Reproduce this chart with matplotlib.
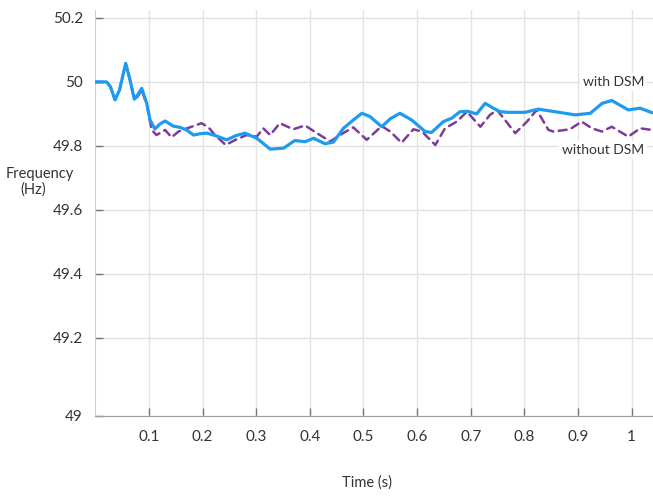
import matplotlib
matplotlib.use("Agg")
import matplotlib.pyplot as plt

plt.rcParams['font.family'] = ['Lato', 'DejaVu Sans']

# Frequency response with demand side management (DSM)
time_with = [0.000, 0.021, 0.028, 0.0366, 0.045, 0.0565, 0.064, 0.0726, 0.079, 0.0864,
             0.0957, 0.102, 0.111, 0.120, 0.130, 0.145, 0.158, 0.170, 0.183, 0.195,
             0.208, 0.226, 0.245, 0.262, 0.279, 0.301, 0.326, 0.351, 0.372, 0.391,
             0.407, 0.428, 0.444, 0.4625, 0.481, 0.497, 0.512, 0.534, 0.550, 0.568,
             0.590, 0.615, 0.627, 0.649, 0.665, 0.680, 0.695, 0.711, 0.727, 0.742,
             0.755, 0.770, 0.801, 0.826, 0.857, 0.895, 0.923, 0.945, 0.963, 0.994,
             1.016, 1.038]
freq_with = [50.000, 50.000, 49.985, 49.944, 49.975, 50.058, 50.010, 49.946, 49.960, 49.980,
             49.933, 49.881, 49.853, 49.868, 49.878, 49.862, 49.858, 49.850, 49.834, 49.838,
             49.840, 49.831, 49.819, 49.832, 49.840, 49.824, 49.790, 49.793, 49.817, 49.813,
             49.824, 49.807, 49.812, 49.855, 49.881, 49.902, 49.892, 49.860, 49.885, 49.902,
             49.881, 49.845, 49.842, 49.876, 49.887, 49.907, 49.908, 49.900, 49.933, 49.918,
             49.907, 49.905, 49.905, 49.915, 49.907, 49.897, 49.902, 49.933, 49.942, 49.9125,
             49.918, 49.904]

# Frequency response without DSM
time_without = [0.000, 0.021, 0.028, 0.0366, 0.045, 0.0565, 0.064, 0.0726, 0.079, 0.0864,
                0.0957, 0.105, 0.114, 0.130, 0.142, 0.155, 0.176, 0.198, 0.211, 0.223,
                0.243, 0.260, 0.282, 0.301, 0.313, 0.326, 0.344, 0.369, 0.391, 0.413,
                0.438, 0.462, 0.481, 0.506, 0.534, 0.550, 0.571, 0.593, 0.609, 0.634,
                0.652, 0.674, 0.693, 0.718, 0.736, 0.749, 0.764, 0.783, 0.805, 0.823,
                0.845, 0.854, 0.885, 0.907, 0.926, 0.945, 0.963, 0.994, 1.016, 1.038]
freq_without = [50.000, 50.000, 49.985, 49.944, 49.975, 50.058, 50.010, 49.946, 49.955, 49.975,
                49.930, 49.850, 49.834, 49.850, 49.827, 49.845, 49.858, 49.871, 49.858, 49.834,
                49.803, 49.818, 49.834, 49.829, 49.855, 49.834, 49.871, 49.852, 49.864, 49.840,
                49.814, 49.840, 49.858, 49.819, 49.862, 49.845, 49.810, 49.852, 49.845, 49.803,
                49.855, 49.876, 49.907, 49.860, 49.897, 49.9125, 49.881, 49.840, 49.876, 49.9125,
                49.850, 49.845, 49.852, 49.876, 49.855, 49.845, 49.860, 49.829, 49.855, 49.850]

x_ticks = [0.1, 0.2, 0.3, 0.4, 0.5, 0.6, 0.7, 0.8, 0.9, 1.0]
x_tick_labels = ['0.1', '0.2', '0.3', '0.4', '0.5', '0.6', '0.7', '0.8', '0.9', '1']
y_ticks = [49.2, 49.4, 49.6, 49.8, 50.0, 50.2]
y_tick_labels = ['49.2', '49.4', '49.6', '49.8', '50', '50.2']
y_floor_label = '49'

X_MAX = 1.04
Y_MIN, Y_MAX = 48.956, 50.225

text_color = '#333333'
grid_color = '#e3e3e3'

fig = plt.figure(figsize=(6.53, 4.97), dpi=100)
ax = fig.add_axes([0.1461, 0.163, 0.8539, 0.817])

ax.plot(time_without, freq_without, color='#7d3c98', lw=1.8,
        linestyle=(0, (3.2, 2.2)), dash_joinstyle='round', dash_capstyle='round',
        zorder=3)
ax.plot(time_with, freq_with, color='#1e9bf0', lw=2.3,
        solid_joinstyle='round', solid_capstyle='round', zorder=4)

ax.set_xlim(0, X_MAX)
ax.set_ylim(Y_MIN, Y_MAX)

ax.set_xticks(x_ticks)
ax.set_xticklabels(x_tick_labels)
ax.set_yticks([Y_MIN] + y_ticks)
ax.set_yticklabels([y_floor_label] + y_tick_labels)

ax.grid(True, color=grid_color, lw=1.0, zorder=0)
ax.set_axisbelow(True)

for side in ('top', 'right'):
    ax.spines[side].set_visible(False)
ax.spines['left'].set_color('#cfcfcf')
ax.spines['bottom'].set_color('#a0a0a0')

ax.tick_params(axis='both', direction='in', length=6, width=1, color='#777777',
               labelsize=11, labelcolor=text_color)
ax.tick_params(axis='y', pad=9)
ax.tick_params(axis='x', pad=10)

# Series labels with white boxes over the grid
ax.text(0.966, 50.0, 'with DSM', ha='center', va='center', fontsize=10,
        color=text_color, zorder=5,
        bbox=dict(facecolor='white', edgecolor='none', pad=2))
ax.text(0.947, 49.7875, 'without DSM', ha='center', va='center', fontsize=10,
        color=text_color, zorder=5,
        bbox=dict(facecolor='white', edgecolor='none', pad=2))

# Axis titles
fig.text(40 / 653, 1 - 174 / 497, 'Frequency', ha='center', va='center',
         fontsize=10.5, color=text_color)
fig.text(33 / 653, 1 - 190 / 497, '(Hz)', ha='center', va='center',
         fontsize=10.5, color=text_color)
fig.text(367 / 653, 1 - 483 / 497, 'Time (s)', ha='center', va='center',
         fontsize=10.5, color=text_color)

fig.savefig('out.png', dpi=100, facecolor='white')
